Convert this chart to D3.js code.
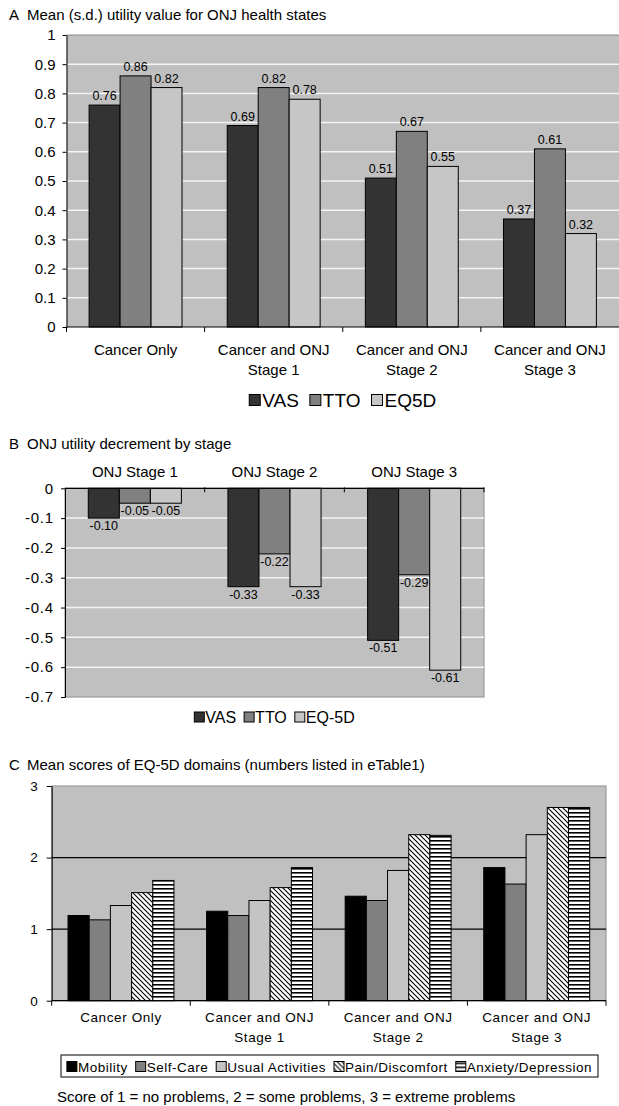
<!DOCTYPE html>
<html><head><meta charset="utf-8">
<script src="https://cdn.jsdelivr.net/npm/d3@7"></script>
<style>
body{margin:0;background:#fff;}
svg{display:block;font-family:"Liberation Sans",Arial,Helvetica,sans-serif;}
</style></head><body>
<svg id="c" width="619" height="1106"></svg>
<script>
// ---------- Panel A data ----------
const catsA = ["Cancer Only","Cancer and ONJ Stage 1","Cancer and ONJ Stage 2","Cancer and ONJ Stage 3"];
const catLinesA = [["Cancer Only"],["Cancer and ONJ","Stage 1"],["Cancer and ONJ","Stage 2"],["Cancer and ONJ","Stage 3"]];
const seriesA = ["VAS","TTO","EQ5D"];
const vasA  = [0.76,0.69,0.51,0.37];
const ttoA  = [0.86,0.82,0.67,0.61];
const eq5dA = [0.82,0.78,0.55,0.32];
const ticksA = [0,0.1,0.2,0.3,0.4,0.5,0.6,0.7,0.8,0.9,1];
const tickLabelsA = ["0","0.1","0.2","0.3","0.4","0.5","0.6","0.7","0.8","0.9","1"];

// ---------- Panel B data ----------
const catsB = ["ONJ Stage 1","ONJ Stage 2","ONJ Stage 3"];
const seriesB = ["VAS","TTO","EQ-5D"];
const vasB  = [-0.10,-0.33,-0.51];
const ttoB  = [-0.05,-0.22,-0.29];
const eq5dB = [-0.05,-0.33,-0.61];
const ticksB = [0,-0.1,-0.2,-0.3,-0.4,-0.5,-0.6,-0.7];
const tickLabelsB = ["0","-0.1","-0.2","-0.3","-0.4","-0.5","-0.6","-0.7"];

// ---------- Panel C data ----------
const catsC = catsA;
const catLinesC = catLinesA;
const seriesC = ["Mobility","Self-Care","Usual Activities","Pain/Discomfort","Anxiety/Depression"];
const mobilityC = [1.19,1.25,1.46,1.86];
const selfCareC = [1.13,1.19,1.40,1.63];
const usualC    = [1.33,1.40,1.82,2.32];
const painC     = [1.51,1.58,2.32,2.70];
const anxietyC  = [1.68,1.86,2.31,2.70];
const ticksC = [0,1,2,3];
const tickLabelsC = ["0","1","2","3"];

const titleA = "Mean (s.d.) utility value for ONJ health states";
const titleB = "ONJ utility decrement by stage";
const titleC = "Mean scores of EQ-5D domains (numbers listed in eTable1)";
const footC = "Score of 1 = no problems, 2 = some problems, 3 = extreme problems";

const svg = d3.select("#c");
const defs = svg.append("defs");
// patterns
const pDiag = defs.append("pattern").attr("id","diag").attr("patternUnits","userSpaceOnUse").attr("width",5).attr("height",5);
pDiag.append("rect").attr("width",5).attr("height",5).attr("fill","#fff");
pDiag.append("path").attr("d","M0,0L5,5M-1,4L1,6M4,-1L6,1").attr("stroke","#000").attr("stroke-width",1.1);
const pHor = defs.append("pattern").attr("id","hor").attr("patternUnits","userSpaceOnUse").attr("width",6).attr("height",4);
pHor.append("rect").attr("width",6).attr("height",4).attr("fill","#fff");
pHor.append("rect").attr("y",0).attr("width",6).attr("height",1.6).attr("fill","#000");

const colA = {"VAS":"#333333","TTO":"#808080","EQ5D":"#c6c6c6","EQ-5D":"#c6c6c6"};
const colC = {"Mobility":"#000000","Self-Care":"#808080","Usual Activities":"#c4c4c4","Pain/Discomfort":"url(#diag)","Anxiety/Depression":"url(#hor)"};

function styleAxis(g, size, ls){
  g.attr("font-family",null).attr("font-size",null);
  g.selectAll("text").attr("font-size",size).attr("fill","#000").attr("letter-spacing",ls||0);
  g.selectAll("line").attr("stroke","#000");
  g.select(".domain").attr("stroke","#000");
}
function title(letter, text, y, size){
  svg.append("text").attr("x",9).attr("y",y).attr("font-size",size).text(letter);
  svg.append("text").attr("x",27).attr("y",y).attr("font-size",size).text(text);
}

// ================= Panel A =================
{
  const L=66.5, R=619, Y0=327, Y1=35;
  const x0 = d3.scaleBand().domain(catsA).range([L,R]);
  const x1 = d3.scaleBand().domain(seriesA).range([0,x0.bandwidth()]).paddingOuter(0.73);
  const y = d3.scaleLinear().domain([0,1]).range([Y0,Y1]);
  const g = svg.append("g");
  g.append("rect").attr("x",L).attr("y",y(1)).attr("width",R-L).attr("height",y(0)-y(1)).attr("fill","#c0c0c0");
  g.selectAll("line.grid").data(ticksA.filter(t=>t>0&&t<1)).join("line").attr("class","grid")
    .attr("x1",L).attr("x2",R).attr("y1",d=>y(d)).attr("y2",d=>y(d)).attr("stroke","#f4f4f4").attr("stroke-width",1.5);
  g.append("line").attr("x1",L).attr("x2",R).attr("y1",y(1)).attr("y2",y(1)).attr("stroke","#8c8c8c").attr("stroke-width",1.2);
  const vals = [vasA,ttoA,eq5dA];
  const data = [];
  catsA.forEach((c,i)=>seriesA.forEach((s,j)=>data.push({c,s,v:vals[j][i]})));
  g.selectAll("rect.bar").data(data).join("rect").attr("class","bar")
    .attr("x",d=>x0(d.c)+x1(d.s)).attr("width",x1.bandwidth())
    .attr("y",d=>y(d.v)).attr("height",d=>y(0)-y(d.v))
    .attr("fill",d=>colA[d.s]).attr("stroke","#000").attr("stroke-width",1);
  g.selectAll("text.vl").data(data).join("text").attr("class","vl")
    .attr("x",d=>x0(d.c)+x1(d.s)+x1.bandwidth()/2).attr("y",d=>y(d.v)-5)
    .attr("text-anchor","middle").attr("font-size",12.5).text(d=>d.v.toFixed(2));
  const ax = g.append("g").attr("transform",`translate(${L},0)`)
    .call(d3.axisLeft(y).tickValues(ticksA).tickFormat((d,i)=>tickLabelsA[i]).tickSize(4).tickSizeOuter(0).tickPadding(7));
  styleAxis(ax,15);
  // x axis
  g.append("line").attr("x1",L).attr("x2",R).attr("y1",Y0).attr("y2",Y0).attr("stroke","#000").attr("stroke-width",1.2);
  g.selectAll("line.xt").data(catsA).join("line").attr("class","xt")
    .attr("x1",d=>x0(d)).attr("x2",d=>x0(d)).attr("y1",Y0).attr("y2",Y0+5).attr("stroke","#000");
  catsA.forEach((c,i)=>{
    catLinesA[i].forEach((ln,k)=>{
      g.append("text").attr("x",x0(c)+x0.bandwidth()/2).attr("y",355+k*20).attr("text-anchor","middle").attr("font-size",15).text(ln);
    });
  });
  // legend
  const lg = g.append("g");
  let cx=0;
  seriesA.forEach(s=>{
    lg.append("rect").attr("x",cx).attr("y",-5.5).attr("width",11).attr("height",11).attr("fill",colA[s]).attr("stroke","#000");
    const t = lg.append("text").attr("x",cx+13).attr("y",6.8).attr("font-size",19).text(s);
    cx += 13 + t.node().getComputedTextLength() + 11;
  });
  cx -= 11;
  lg.attr("transform",`translate(${(L+R)/2 - cx/2},400)`);
  title("A", titleA, 20, 15);
}

// ================= Panel B =================
{
  const L=65, R=484, Y0=488.3, Y1=697;
  const x0 = d3.scaleBand().domain(catsB).range([L,R]);
  const x1 = d3.scaleBand().domain(seriesB).range([0,x0.bandwidth()]).paddingOuter(0.75);
  const y = d3.scaleLinear().domain([0,-0.7]).range([Y0,Y1]);
  const g = svg.append("g");
  g.append("rect").attr("x",L).attr("y",Y0).attr("width",R-L).attr("height",Y1-Y0).attr("fill","#c0c0c0").attr("stroke","#9a9a9a").attr("stroke-width",1.2);
  g.selectAll("line.grid").data(ticksB.filter(t=>t<0&&t>-0.7)).join("line").attr("class","grid")
    .attr("x1",L).attr("x2",R).attr("y1",d=>y(d)).attr("y2",d=>y(d)).attr("stroke","#f4f4f4").attr("stroke-width",1.5);
  const vals = [vasB,ttoB,eq5dB];
  const data = [];
  catsB.forEach((c,i)=>seriesB.forEach((s,j)=>data.push({c,s,v:vals[j][i]})));
  g.selectAll("rect.bar").data(data).join("rect").attr("class","bar")
    .attr("x",d=>x0(d.c)+x1(d.s)).attr("width",x1.bandwidth())
    .attr("y",y(0)).attr("height",d=>y(d.v)-y(0))
    .attr("fill",d=>colA[d.s]).attr("stroke","#000").attr("stroke-width",1);
  g.selectAll("text.vl").data(data).join("text").attr("class","vl")
    .attr("x",d=>x0(d.c)+x1(d.s)+x1.bandwidth()/2).attr("y",d=>y(d.v)+12)
    .attr("text-anchor","middle").attr("font-size",12.5).text(d=>(d.v<0?"-":"")+Math.abs(d.v).toFixed(2));
  const ax = g.append("g").attr("transform",`translate(${L},0)`)
    .call(d3.axisLeft(y).tickValues(ticksB).tickFormat((d,i)=>tickLabelsB[i]).tickSize(4).tickSizeOuter(0).tickPadding(7));
  styleAxis(ax,15,0.8);
  g.append("line").attr("x1",L).attr("x2",R).attr("y1",Y0).attr("y2",Y0).attr("stroke","#000").attr("stroke-width",1.2);
  g.selectAll("line.xt").data(catsB.slice(1).map(c=>x0(c)).concat([R])).join("line").attr("class","xt")
    .attr("x1",d=>d).attr("x2",d=>d).attr("y1",Y0-1).attr("y2",Y0+4).attr("stroke","#000");
  catsB.forEach(c=>{
    g.append("text").attr("x",x0(c)+x0.bandwidth()/2).attr("y",477).attr("text-anchor","middle").attr("font-size",15).text(c);
  });
  const lg = g.append("g");
  let cx=0;
  seriesB.forEach(s=>{
    lg.append("rect").attr("x",cx).attr("y",-5).attr("width",10).attr("height",10).attr("fill",colA[s]).attr("stroke","#000");
    const t = lg.append("text").attr("x",cx+11).attr("y",5.8).attr("font-size",16).text(s);
    cx += 11 + t.node().getComputedTextLength() + 8;
  });
  cx -= 8;
  lg.attr("transform",`translate(${(L+R)/2 - cx/2},717)`);
  title("B", titleB, 449, 15);
}

// ================= Panel C =================
{
  const L=51.7, R=606, Y0=1000.7, Y1=786;
  const x0 = d3.scaleBand().domain(catsC).range([L,R]);
  const x1 = d3.scaleBand().domain(seriesC).range([0,x0.bandwidth()]).paddingOuter(0.77);
  const y = d3.scaleLinear().domain([0,3]).range([Y0,Y1]);
  const g = svg.append("g");
  g.append("rect").attr("x",L).attr("y",Y1).attr("width",R-L).attr("height",Y0-Y1).attr("fill","#c0c0c0").attr("stroke","#9a9a9a").attr("stroke-width",1.2);
  g.selectAll("line.grid").data([1,2]).join("line").attr("class","grid")
    .attr("x1",L).attr("x2",R).attr("y1",d=>y(d)).attr("y2",d=>y(d)).attr("stroke","#000").attr("stroke-width",1.2);
  const vals = [mobilityC,selfCareC,usualC,painC,anxietyC];
  const data = [];
  catsC.forEach((c,i)=>seriesC.forEach((s,j)=>data.push({c,s,v:vals[j][i]})));
  g.selectAll("rect.bar").data(data).join("rect").attr("class","bar")
    .attr("x",d=>x0(d.c)+x1(d.s)).attr("width",x1.bandwidth())
    .attr("y",d=>y(d.v)).attr("height",d=>y(0)-y(d.v))
    .attr("fill",d=>colC[d.s]).attr("stroke","#000").attr("stroke-width",1);
  const ax = g.append("g").attr("transform",`translate(${L},0)`)
    .call(d3.axisLeft(y).tickValues(ticksC).tickFormat((d,i)=>tickLabelsC[i]).tickSize(5).tickSizeOuter(0).tickPadding(9));
  styleAxis(ax,13.5);
  g.append("line").attr("x1",L).attr("x2",R).attr("y1",Y0).attr("y2",Y0).attr("stroke","#000").attr("stroke-width",1.2);
  g.selectAll("line.xt").data(catsC.map(c=>x0(c)).concat([R])).join("line").attr("class","xt")
    .attr("x1",d=>d).attr("x2",d=>d).attr("y1",Y0).attr("y2",Y0+5).attr("stroke","#000");
  catsC.forEach((c,i)=>{
    catLinesC[i].forEach((ln,k)=>{
      g.append("text").attr("x",x0(c)+x0.bandwidth()/2).attr("y",1021.5+k*20).attr("text-anchor","middle")
        .attr("font-size",13.5).attr("letter-spacing",0.6).text(ln);
    });
  });
  // legend with box
  const box = g.append("rect").attr("x",61).attr("y",1055).attr("width",537).attr("height",22).attr("fill","#fff").attr("stroke","#000");
  const lg = g.append("g");
  let cx=0;
  seriesC.forEach(s=>{
    lg.append("rect").attr("x",cx).attr("y",-5).attr("width",10).attr("height",10).attr("fill",colC[s]).attr("stroke","#000");
    const t = lg.append("text").attr("x",cx+11).attr("y",5).attr("font-size",13.5).attr("letter-spacing",0.5).text(s);
    cx += 11 + t.node().getComputedTextLength() + 8;
  });
  cx -= 8;
  lg.attr("transform",`translate(${329.5 - cx/2},1066.5)`);
  g.append("text").attr("x",57).attr("y",1102).attr("font-size",15).text(footC);
  title("C", titleC, 770, 15);
}
</script>
</body></html>
